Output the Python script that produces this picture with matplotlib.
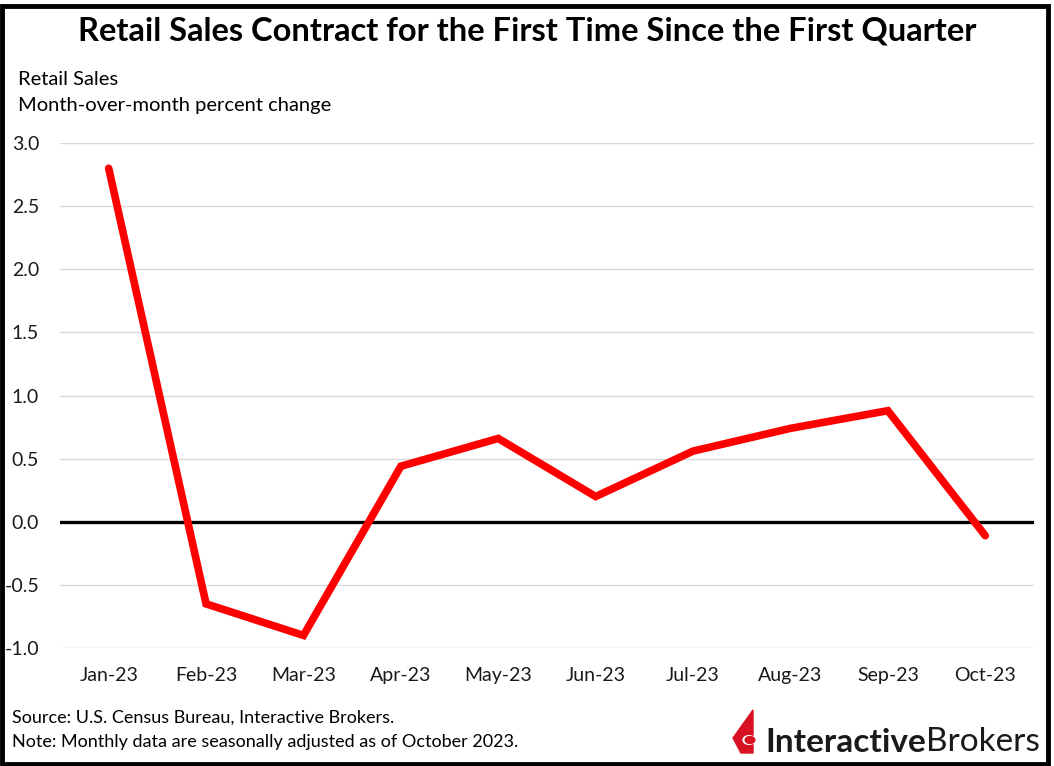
import matplotlib.pyplot as plt
from matplotlib.patches import Rectangle, Polygon, Circle

# Data: month-over-month retail sales change (%)
months = ["Jan-23", "Feb-23", "Mar-23", "Apr-23", "May-23",
          "Jun-23", "Jul-23", "Aug-23", "Sep-23", "Oct-23"]
mom_change = [2.8, -0.65, -0.9, 0.44, 0.66, 0.2, 0.56, 0.74, 0.88, -0.11]
y_ticks = [-1.0, -0.5, 0.0, 0.5, 1.0, 1.5, 2.0, 2.5, 3.0]

plt.rcParams['font.family'] = ['Lato', 'DejaVu Sans']

fig = plt.figure(figsize=(10.54, 7.66), dpi=100)
ax = fig.add_axes([0.0569, 0.154, 0.9241, 0.6593])

x = list(range(len(months)))
for t in y_ticks:
    if t != 0:
        ax.axhline(t, color='#d9d9d9', linewidth=1, zorder=1)
ax.axhline(0, color='black', linewidth=2.4, zorder=2)
ax.plot(x, mom_change, color='#ff0000', linewidth=5.5,
        solid_capstyle='round', solid_joinstyle='miter', zorder=3)

ax.set_xlim(-0.5, len(months) - 0.5)
ax.set_ylim(-1.0, 3.0)
ax.set_xticks(x)
ax.set_xticklabels(months)
ax.set_yticks(y_ticks)
ax.set_yticklabels([f"{t:.1f}" for t in y_ticks])
ax.tick_params(length=0, labelsize=14, colors='#1a1a1a')
ax.tick_params(axis='x', pad=14)
ax.tick_params(axis='y', pad=15)
for s in ax.spines.values():
    s.set_visible(False)

# Titles and notes
fig.text(0.5, 0.96, "Retail Sales Contract for the First Time Since the First Quarter",
         ha='center', va='center', fontsize=23.5, fontweight='bold')
fig.text(0.017, 0.896, "Retail Sales", ha='left', va='center', fontsize=14.5)
fig.text(0.017, 0.862, "Month-over-month percent change", ha='left', va='center', fontsize=14.5)
fig.text(0.011, 0.063, "Source: U.S. Census Bureau, Interactive Brokers.",
         ha='left', va='center', fontsize=13)
fig.text(0.011, 0.031, "Note: Monthly data are seasonally adjusted as of October 2023.",
         ha='left', va='center', fontsize=13)

# Logo
W, H = 1054, 766
def px(xp, yp):
    return (xp / W, 1 - yp / H)
icon = Polygon([px(753, 710), px(733, 738), px(741, 753), px(753, 753)],
               closed=True, transform=fig.transFigure, color='#d81222', zorder=5)
fig.patches.append(icon)
dot = Circle(px(749, 740), 6 / W, transform=fig.transFigure, color='white', zorder=6)
fig.patches.append(dot)
dot2 = Circle(px(750, 740), 4.8 / W, transform=fig.transFigure, color='#d81222', zorder=7)
fig.patches.append(dot2)
t1 = fig.text(765 / W, 1 - 742 / H, "Interactive", ha='left', va='center',
              fontsize=24, fontweight='bold', color='#1a1a1a')
fig.canvas.draw()
bb = t1.get_window_extent()
fig.text(bb.x1 / W, 1 - 742 / H, "Brokers", ha='left', va='center',
         fontsize=24, color='#1a1a1a')

# Frame
fig.patches.append(Rectangle((2 / W, 2 / H), 1046 / W, 758 / H, transform=fig.transFigure,
                             fill=False, edgecolor='black', linewidth=3.5, zorder=10))

fig.savefig("out.png", dpi=100)
